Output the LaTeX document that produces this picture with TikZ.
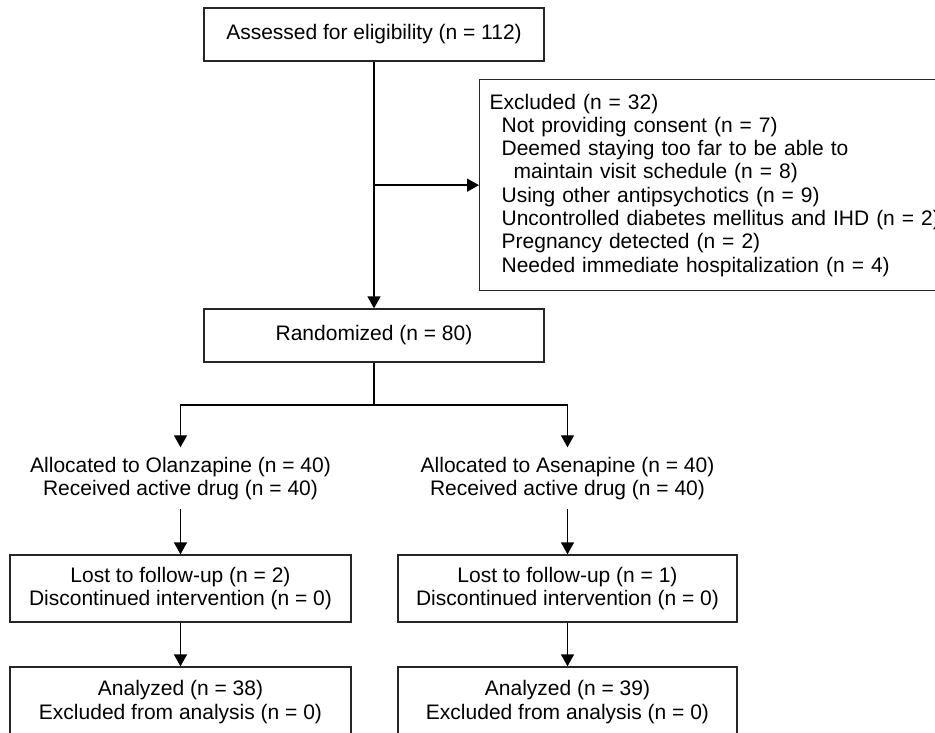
\documentclass[tikz,border=0pt]{standalone}
\usepackage{fontspec}
\setmainfont{Liberation Sans}
\usetikzlibrary{arrows.meta}

\begin{document}
\begin{tikzpicture}[
	x=1pt, y=-1pt,
	line width=1.3pt,
	font=\fontsize{21}{23.3}\selectfont,
	arr/.style={
		-{Triangle[length=12pt,width=13pt]}
	},
	box/.style={
		draw=black!85,
		rectangle,
		align=center,
		inner sep=0pt
	},
	plain/.style={
		align=center,
		inner xsep=0pt,
		inner ysep=9pt
	}
]
\clip (0,0) rectangle (935,733);

\node[box, minimum width=340pt, minimum height=53pt] (assess) at (374,34.5) {Assessed for eligibility (n = 112)};
\node[box, anchor=north west, minimum height=211pt, text width=460pt, align=left, inner xsep=10pt] (excl) at (479,79) {Excluded (n = 32)\\
\hspace*{12pt}Not providing consent (n = 7)\\
\hspace*{12pt}Deemed staying too far to be able to\\
\hspace*{24pt}maintain visit schedule (n = 8)\\
\hspace*{12pt}Using other antipsychotics (n = 9)\\
\hspace*{12pt}Uncontrolled diabetes mellitus and IHD (n = 2)\\
\hspace*{12pt}Pregnancy detected (n = 2)\\
\hspace*{12pt}Needed immediate hospitalization (n = 4)};
\node[box, minimum width=340pt, minimum height=53pt] (rand) at (374,335.5) {Randomized (n = 80)};
\coordinate (split) at (374,405);

\node[plain] (allocL) at (180.5,478.4) {Allocated to Olanzapine (n = 40)\\Received active drug (n = 40)};
\node[plain] (allocR) at (567.5,478.4) {Allocated to Asenapine (n = 40)\\Received active drug (n = 40)};
\node[box, minimum width=341pt, minimum height=67pt] (lostL) at (180.5,588.5) {Lost to follow-up (n = 2)\\Discontinued intervention (n = 0)};
\node[box, minimum width=339pt, minimum height=67pt] (lostR) at (567.5,588.5) {Lost to follow-up (n = 1)\\Discontinued intervention (n = 0)};
\node[box, minimum width=341pt, minimum height=70pt] (anaL) at (180.5,702) {Analyzed (n = 38)\\Excluded from analysis (n = 0)};
\node[box, minimum width=339pt, minimum height=70pt] (anaR) at (567.5,702) {Analyzed (n = 39)\\Excluded from analysis (n = 0)};

\draw[arr] (assess) -- (rand);
\draw[arr] (assess.south |- excl.west) -- (excl.west);
\draw (rand) -- (split);
\draw[arr] (split) -| (allocL);
\draw[arr] (split) -| (allocR);
\draw[arr] (allocL) -- (lostL);
\draw[arr] (allocR) -- (lostR);
\draw[arr] (lostL) -- (anaL);
\draw[arr] (lostR) -- (anaR);

\end{tikzpicture}
\end{document}
